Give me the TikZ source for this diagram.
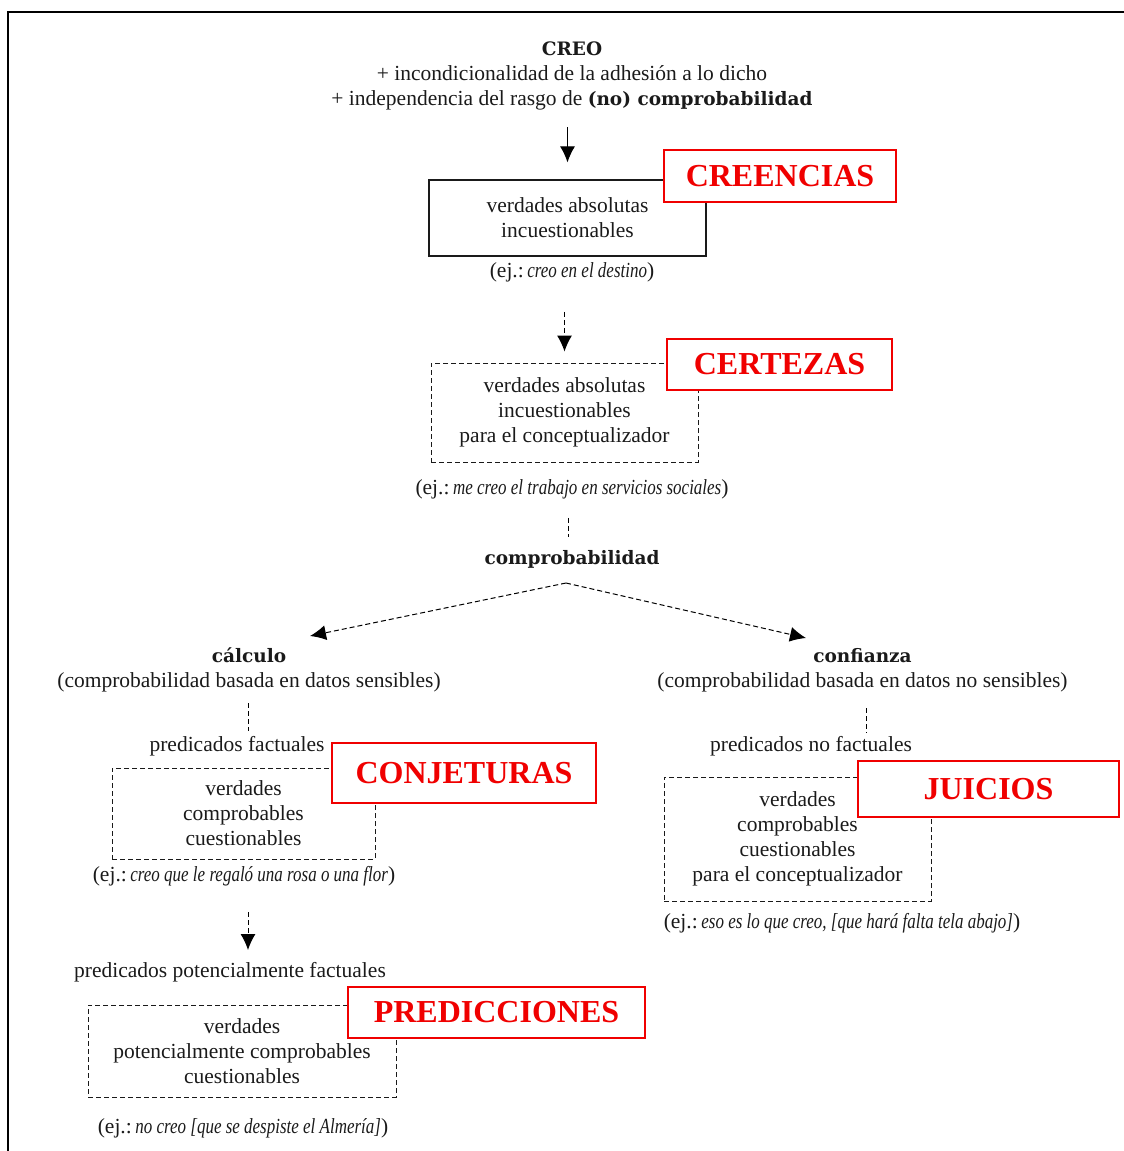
\documentclass[tikz,border=0pt]{standalone}
\usepackage{fontspec}
\usepackage{graphicx}
\setmainfont{Liberation Serif}
\newfontfamily\heavy{DejaVu Serif}
\usetikzlibrary{arrows.meta}
\definecolor{ink}{HTML}{1A1A1A}
\definecolor{tagred}{HTML}{F00000}
% narrow italic for the examples, wide heavy bold for the key words
\newcommand{\exi}[1]{\scalebox{0.79}[1]{\itshape #1}}
\newcommand{\hv}[1]{{\heavy\bfseries\fontsize{18.5}{25}\selectfont #1}}
\begin{document}
\begin{tikzpicture}[x=1pt,y=-1pt,
  every node/.style={inner sep=0pt, text=ink},
  txt/.style={font=\fontsize{21.5}{25}\selectfont, align=center},
  solidbox/.style={txt, draw=ink, line width=1.2pt},
  dashbox/.style={txt, draw=ink, line width=1pt, dash pattern=on 5pt off 3pt},
  tag/.style={draw=tagred, line width=1.3pt, fill=white, text=tagred,
    font=\fontsize{32}{36}\selectfont\bfseries},
  arr/.style={line width=1.1pt, -{Latex[length=16pt,width=15pt]}},
  darr/.style={line width=1pt, dash pattern=on 5pt off 3pt, -{Latex[length=16pt,width=15pt]}},
  dline/.style={line width=1pt, dash pattern=on 5pt off 3pt}
]
\useasboundingbox (0,0) rectangle (1124,1151);
% frame
\draw[line width=1.2pt] (1124,12) -- (8,12) -- (8,1151);

% top: CREO
\node[txt] (head) at (572,76) {\hv{CREO}\\+ incondicionalidad de la adhesión a lo dicho\\+ independencia del rasgo de \hv{(no) comprobabilidad}};

% creencias
\node[solidbox, minimum width=277pt, minimum height=76pt] (b1) at (567.5,218) {verdades absolutas\\incuestionables};
\node[tag, minimum width=232pt, minimum height=52pt] (t1) at (780,176) {CREENCIAS};
\node[txt] (e1) at (572,272) {(ej.:\,\exi{creo en el destino})};
\draw[arr, shorten <=17pt, shorten >=17pt] (head.south -| b1.north) -- (b1.north);

% certezas
\node[dashbox, minimum width=267pt, minimum height=99pt] (b2) at (564.5,412.5) {verdades absolutas\\incuestionables\\para el conceptualizador};
\node[tag, minimum width=225pt, minimum height=51pt] (t2) at (779.5,364.5) {CERTEZAS};
\node[txt] (e2) at (572,489) {(ej.:\,\exi{me creo el trabajo en servicios sociales})};
\draw[darr, shorten <=30pt, shorten >=11pt] (e1.south -| b2.north) -- (b2.north);

% comprobabilidad
\node[txt] (comp) at (572,559) {\hv{comprobabilidad}};
\draw[dline, shorten <=19pt, shorten >=13pt] (e2.south -| 568,0) -- (comp.north -| 568,0);
\coordinate (split) at (566,583);
\coordinate (ca) at (310,636);
\coordinate (co) at (806,638);
\draw[darr] (split) -- (ca);
\draw[darr] (split) -- (co);

% left branch: calculo
\node[txt] (calc) at (249,670) {\hv{cálculo}\\(comprobabilidad basada en datos sensibles)};
\node[txt] (pf) at (237,746) {predicados factuales};
\draw[dline] (248,703) -- (248,731);
\node[dashbox, minimum width=263pt, minimum height=91pt] (b3) at (243.5,813.5) {verdades\\comprobables\\cuestionables};
\node[tag, minimum width=264pt, minimum height=60pt] (t3) at (464,773) {CONJETURAS};
\node[txt] (e3) at (244,876) {(ej.:\,\exi{creo que le regaló una rosa o una flor})};
\node[txt] (ppf) at (230,972) {predicados potencialmente factuales};
\draw[darr] (248,912) -- (248,950);
\node[dashbox, minimum width=308pt, minimum height=92pt] (b4) at (242,1051) {verdades\\potencialmente comprobables\\cuestionables};
\node[tag, minimum width=297pt, minimum height=51pt] (t4) at (496.5,1012.5) {PREDICCIONES};
\node[txt] (e4) at (243,1128) {(ej.:\,\exi{no creo [que se despiste el Almería]})};

% right branch: confianza
\node[txt] (conf) at (862.5,670) {\hv{confianza}\\(comprobabilidad basada en datos no sensibles)};
\node[txt] (pnf) at (811,746) {predicados no factuales};
\draw[dline] (866,708) -- (866,733);
\node[dashbox, minimum width=267pt, minimum height=124pt] (b5) at (797.5,839) {verdades\\comprobables\\cuestionables\\para el conceptualizador};
\node[tag, minimum width=261pt, minimum height=56pt] (t5) at (988.5,789) {JUICIOS};
\node[txt] (e5) at (842,923) {(ej.:\,\exi{eso es lo que creo, [que hará falta tela abajo]})};
\end{tikzpicture}
\end{document}
